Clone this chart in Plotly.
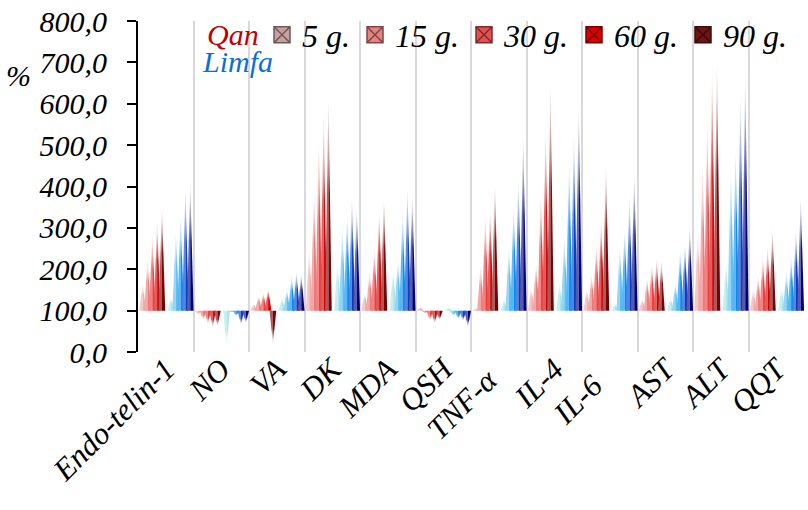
import plotly.graph_objects as go

categories = ["Endo-telin-1", "NO", "VA", "DK", "MDA", "QSH", "TNF-α\u00a0\u00a0",
              "IL-4", "IL-6\u00a0\u00a0\u00a0", "AST", "ALT", "QQT"]
doses = ["5 g.", "15 g.", "30 g.", "60 g.", "90 g."]

qan_5 = [167, 90, 117, 254, 145, 109, 106, 157, 153, 129, 298, 153]
qan_15 = [227, 78, 137, 398, 197, 93, 209, 217, 189, 181, 459, 185]
qan_30 = [284, 68, 143, 511, 250, 77, 330, 383, 262, 213, 560, 229]
qan_60 = [316, 60, 153, 574, 342, 69, 346, 540, 318, 226, 685, 254]
qan_90 = [350, 62, 19, 616, 374, 77, 407, 648, 451, 221, 703, 298]

limfa_5 = [133, 15, 133, 221, 201, 108, 129, 169, 117, 133, 221, 157]
limfa_15 = [298, 96, 153, 306, 226, 87, 258, 282, 258, 169, 447, 198]
limfa_30 = [330, 87, 185, 334, 338, 79, 354, 463, 298, 246, 491, 229]
limfa_60 = [397, 66, 195, 374, 395, 75, 419, 523, 374, 262, 624, 298]
limfa_90 = [407, 70, 189, 350, 381, 60, 519, 592, 431, 304, 668, 374]

baseline = 100
y_ticks = [0, 100, 200, 300, 400, 500, 600, 700, 800]

qan_series = [qan_5, qan_15, qan_30, qan_60, qan_90]
limfa_series = [limfa_5, limfa_15, limfa_30, limfa_60, limfa_90]

qan_colors = [(240, 170, 170), (236, 120, 120), (236, 60, 60), (210, 0, 0), (120, 0, 0)]
limfa_colors = [(170, 230, 232), (90, 190, 240), (0, 140, 240), (0, 60, 200), (0, 0, 120)]
qan_legend = [(200, 160, 160), (230, 130, 130), (232, 80, 80), (220, 0, 0), (110, 20, 20)]

FONT = "Liberation Serif"
FS = 30
HW = 0.06          # half width of pyramid base (category units)
STEP = 0.0865      # spacing between series
QAN_START = -0.415
LIMFA_START = 0.095


def rgba(c, a=1.0):
    return f"rgba({c[0]},{c[1]},{c[2]},{a})"


def lighten(c, f):
    return tuple(int(v + (255 - v) * f) for v in c)


def darken(c, f):
    return tuple(int(v * (1 - f)) for v in c)


fig = go.Figure()


def add_pyramid(xc, v, col):
    light = lighten(col, 0.35)
    for face, c in (("l", light), ("r", col)):
        if face == "l":
            xs = [xc - HW, xc, xc, xc - HW]
        else:
            xs = [xc, xc + HW, xc, xc]
        ys = [baseline, baseline, v, baseline]
        if v >= baseline:
            grad = dict(type="vertical", start=baseline, stop=v,
                        colorscale=[[0, rgba(c)], [0.55, rgba(c, 0.95)],
                                    [1, rgba(lighten(c, 0.6), 0.25)]])
        else:
            grad = dict(type="vertical", start=v, stop=baseline,
                        colorscale=[[0, rgba(lighten(c, 0.6), 0.25)],
                                    [0.45, rgba(c, 0.95)], [1, rgba(c)]])
        fig.add_trace(go.Scatter(
            x=xs, y=ys, mode="lines", fill="toself",
            line=dict(width=0, color=rgba(c)),
            fillcolor=rgba(c), fillgradient=grad,
            hoverinfo="skip", showlegend=False))


for ci in range(len(categories)):
    for k in range(5):
        add_pyramid(ci + QAN_START + k * STEP, qan_series[k][ci], qan_colors[k])
    for k in range(5):
        add_pyramid(ci + LIMFA_START + k * STEP, limfa_series[k][ci], limfa_colors[k])

# legend entries (Qan colours)
for k, d in enumerate(doses):
    fig.add_trace(go.Scatter(
        x=[None], y=[None], mode="markers", name=d,
        marker=dict(symbol="square-x", size=16, color=rgba(qan_legend[k]),
                    line=dict(width=1.5, color=rgba(darken(qan_legend[k], 0.45)))),
        showlegend=True))

fig.add_shape(type="rect", xref="x", yref="paper", x0=0.6, x1=11.4, y0=0.885, y1=1.0,
              fillcolor="white", line=dict(width=0), layer="between")

fig.add_annotation(text="Qan", xref="paper", yref="paper", x=(233 - 138) / 666, y=(352 - 35) / 331,
                   xanchor="center", yanchor="middle", showarrow=False,
                   font=dict(family=FONT, size=FS, style="italic", color="#c00000"))
fig.add_annotation(text="Limfa", xref="paper", yref="paper", x=(237 - 138) / 666, y=(352 - 62) / 331,
                   xanchor="center", yanchor="middle", showarrow=False,
                   font=dict(family=FONT, size=FS, style="italic", color="#0a6fd6"))
fig.add_annotation(text="%", xref="paper", yref="paper", x=(18 - 138) / 666, y=(352 - 76) / 331,
                   xanchor="center", yanchor="middle", showarrow=False,
                   font=dict(family=FONT, size=FS, style="italic", color="black"))

fig.update_layout(
    width=808, height=510,
    margin=dict(l=138, r=4, t=21, b=158),
    paper_bgcolor="white", plot_bgcolor="white",
    separators=",.",
    showlegend=True,
    legend=dict(orientation="h", x=(262 - 138) / 666, xanchor="left", y=(352 - 35) / 331,
                yanchor="middle", bgcolor="rgba(0,0,0,0)",
                font=dict(family=FONT, size=32, style="italic", color="black")),
    xaxis=dict(range=[-0.5, 11.5], tickmode="array", tickvals=list(range(len(categories))),
               ticktext=categories, tickangle=-45, showgrid=False, zeroline=False,
               showline=False, ticks="", ticklabelstandoff=-8,
               tickfont=dict(family=FONT, size=31, style="italic", color="black"),
               minor=dict(tickmode="linear", tick0=0.5, dtick=1, showgrid=True,
                          gridcolor="#d9d9d9", gridwidth=2)),
    yaxis=dict(range=[0, 800], tickmode="array", tickvals=y_ticks, tickformat=".1f",
               showgrid=False, zeroline=False, showline=True, linecolor="black", linewidth=2,
               ticks="outside", ticklen=9, tickwidth=2, tickcolor="black",
               ticklabelstandoff=14,
               tickfont=dict(family=FONT, size=FS, style="italic", color="black")),
)

fig.write_html("out.html")
